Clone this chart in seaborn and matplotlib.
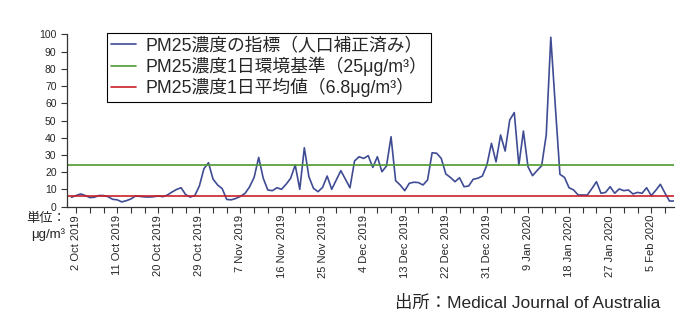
import pandas as pd
import numpy as np
import seaborn as sns
import matplotlib.pyplot as plt

# daily PM2.5 index (population weighted), 1 Oct 2019 - 10 Feb 2020
start_date = "2019-10-01"
pm25 = [5.5, 6.5, 7.4, 6.5, 5.3, 5.5, 6.5, 6.5, 5.8, 4.3,
        4.0, 2.8, 3.5, 4.5, 6.2, 6.0, 5.7, 5.6, 5.8, 6.3,
        5.8, 6.8, 8.5, 10.0, 11.0, 7.0, 5.6, 6.5, 12.0, 22.0,
        25.5, 16.0, 12.6, 10.5, 4.2, 4.0, 4.8, 6.0, 7.7, 11.5,
        17.0, 28.6, 16.5, 9.7, 9.3, 11.0, 10.1, 13.0, 16.5, 24.2,
        10.1, 34.2, 17.4, 10.7, 8.7, 11.2, 17.8, 10.1, 15.5, 20.9,
        16.0, 11.0, 26.5, 29.0, 28.0, 29.6, 22.8, 29.0, 20.3, 23.6,
        40.6, 15.1, 12.6, 9.3, 13.6, 14.2, 14.0, 12.6, 15.5, 31.3,
        31.0, 28.0, 19.0, 17.0, 14.5, 16.8, 11.6, 12.0, 15.9, 16.5,
        17.8, 24.2, 36.8, 26.0, 41.6, 32.3, 50.3, 54.6, 24.0, 43.9,
        23.2, 18.0, 21.0, 23.8, 41.6, 98.3, 58.0, 18.8, 17.0, 11.0,
        9.7, 6.8, 6.8, 6.8, 10.5, 14.5, 7.8, 8.3, 11.6, 7.8,
        10.3, 9.3, 9.7, 7.4, 8.3, 7.8, 11.0, 6.4, 9.5, 13.0,
        8.0, 3.3, 3.3]

standard_value = 24.3   # 環境基準 line as drawn
mean_value = 6.0        # 平均値 line as drawn

label_series = "PM25濃度の指標（人口補正済み）"
label_standard = "PM25濃度1日環境基準（25μg/m³）"
label_mean = "PM25濃度1日平均値（6.8μg/m³）"

df = pd.DataFrame({
    "date": pd.date_range(start_date, periods=len(pm25), freq="D"),
    "pm25": pm25,
})

sns.set_style("ticks")
plt.rcParams['font.family'] = ['Liberation Sans', 'Noto Sans CJK JP', 'DejaVu Sans']

fig = plt.figure(figsize=(7, 3.3), dpi=100)
ax = fig.add_axes([0.0957, 0.3736, 0.8672, 0.5224])

sns.lineplot(data=df, x="date", y="pm25", ax=ax, color="#3f4c94",
             linewidth=1.2, label=label_series)
ax.axhline(standard_value, color="#4e9a2f", linewidth=1.2, label=label_standard)
ax.axhline(mean_value, color="#c8202a", linewidth=1.2, label=label_mean)

ax.set_ylim(0, 100)
ax.set_yticks(range(0, 101, 10))
ax.set_xlim(pd.Timestamp("2019-09-30"), pd.Timestamp("2020-02-10"))

tick_dates = pd.date_range("2019-10-02", "2020-02-09", freq="3D")
tick_labels = [f"{d.day} {d.strftime('%b %Y')}" if i % 3 == 0 else ""
               for i, d in enumerate(tick_dates)]
ax.set_xticks(tick_dates)
ax.set_xticklabels(tick_labels, rotation=90, fontsize=8)
ax.tick_params(axis="y", labelsize=7.5, length=4, width=0.8, color="#333333")
ax.tick_params(axis="x", length=4, width=0.8, color="#333333", pad=2)
ax.set_xlabel("")
ax.set_ylabel("")
sns.despine(ax=ax)
for s in ["left", "bottom"]:
    ax.spines[s].set_color("#333333")
    ax.spines[s].set_linewidth(0.9)

leg = ax.legend(loc="upper left", bbox_to_anchor=(107 / 700, 1 - 33 / 330),
                bbox_transform=fig.transFigure, fontsize=12.8, frameon=True,
                fancybox=False, edgecolor="black", framealpha=1,
                borderaxespad=0, handlelength=1.4, handletextpad=0.5,
                labelspacing=0.12, borderpad=0.25)
leg.get_frame().set_linewidth(0.8)

fig.text(46 / 700, 1 - 219 / 330, "単位：", ha="center", va="center", fontsize=9.5)
fig.text(48 / 700, 1 - 235 / 330, "μg/m³", ha="center", va="center", fontsize=9.5)
fig.text(660 / 700, 22 / 330, "出所：Medical Journal of Australia",
         ha="right", va="baseline", fontsize=12.5)

plt.savefig("out.png", dpi=100)
